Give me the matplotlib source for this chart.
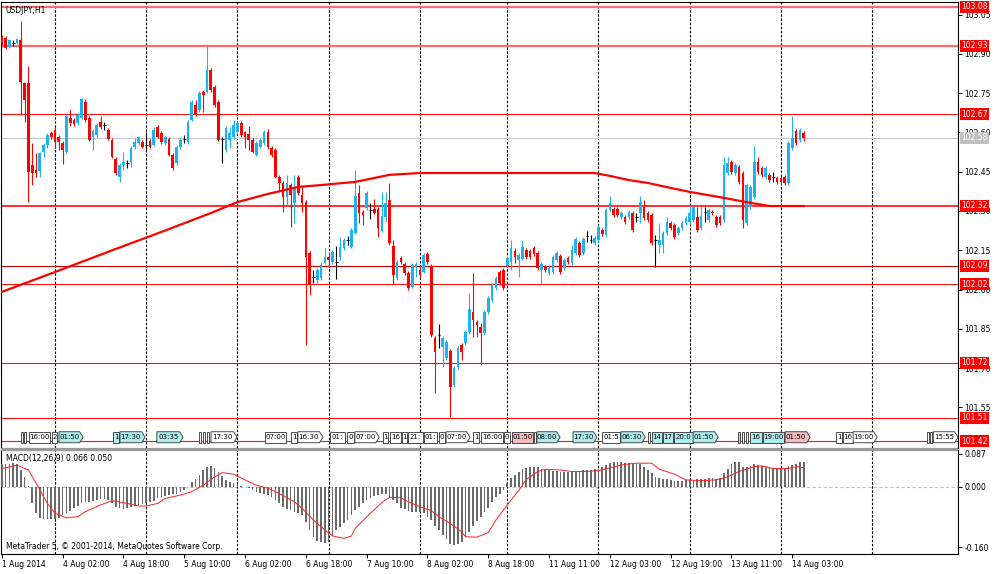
import matplotlib
matplotlib.use('Agg')
import matplotlib.pyplot as plt
import matplotlib.transforms as mtransforms
from matplotlib.patches import Polygon, Rectangle
import numpy as np

plt.rcParams['font.family'] = ['DejaVu Sans']

title_text = "USDJPY,H1"

opens = [
102.965,102.961,102.926,102.942,102.942,102.953,102.789,102.789,102.476,102.457,
102.453,102.525,102.552,102.598,102.609,102.583,102.560,102.525,102.655,102.648,
102.636,102.655,102.716,102.655,102.583,102.590,102.640,102.629,102.609,102.571,
102.499,102.430,102.476,102.483,102.487,102.544,102.560,102.564,102.552,102.567,
102.552,102.621,102.598,102.560,102.575,102.514,102.483,102.544,102.575,102.564,
102.648,102.705,102.686,102.755,102.755,102.839,102.774,102.716,102.575,102.533,
102.571,102.583,102.602,102.636,102.602,102.594,102.571,102.514,102.544,102.560,
102.602,102.541,102.533,102.430,102.407,102.353,102.399,102.331,102.430,102.361,
102.334,102.140,102.048,102.036,102.044,102.101,102.124,102.105,102.105,102.124,
102.159,102.189,102.162,102.216,102.369,102.296,102.311,102.304,102.308,102.308,
102.224,102.277,102.342,102.166,102.044,102.120,102.098,102.063,102.010,102.086,
102.075,102.067,102.136,102.090,101.815,101.826,101.780,101.738,101.765,101.635,
101.704,101.788,101.796,101.838,101.914,101.876,101.857,101.834,101.914,101.960,
102.006,102.067,102.075,102.090,102.105,102.147,102.113,102.117,102.151,102.147,
102.159,102.140,102.075,102.086,102.063,102.067,102.113,102.128,102.082,102.120,
102.101,102.140,102.178,102.140,102.204,102.189,102.178,102.189,102.227,102.208,
102.304,102.308,102.308,102.277,102.277,102.277,102.292,102.277,102.292,102.315,
102.292,102.285,102.189,102.170,102.170,102.216,102.254,102.247,102.216,102.235,
102.254,102.258,102.266,102.277,102.235,102.296,102.266,102.296,102.277,102.277,
102.266,102.445,102.487,102.445,102.468,102.445,102.254,102.315,102.353,102.487,
102.464,102.430,102.438,102.430,102.426,102.426,102.430,102.407,102.541,102.606,
102.571,102.598]

highs = [
102.972,102.968,102.957,102.953,102.961,103.026,102.793,102.854,102.560,102.522,
102.525,102.560,102.598,102.606,102.621,102.590,102.567,102.667,102.690,102.655,
102.674,102.732,102.728,102.663,102.613,102.636,102.663,102.640,102.617,102.579,
102.506,102.483,102.525,102.495,102.548,102.579,102.586,102.571,102.602,102.575,
102.621,102.629,102.606,102.586,102.583,102.522,102.552,102.579,102.590,102.648,
102.724,102.724,102.758,102.762,102.930,102.846,102.781,102.724,102.583,102.625,
102.621,102.648,102.644,102.644,102.606,102.625,102.579,102.567,102.579,102.609,
102.613,102.548,102.541,102.438,102.415,102.438,102.407,102.438,102.438,102.392,
102.342,102.147,102.075,102.082,102.105,102.159,102.143,102.151,102.166,102.201,
102.197,102.204,102.235,102.457,102.399,102.304,102.376,102.331,102.346,102.315,
102.373,102.373,102.407,102.189,102.113,102.128,102.105,102.071,102.101,102.105,
102.090,102.140,102.143,102.098,101.822,101.868,101.822,101.807,101.773,101.708,
101.784,101.796,101.845,101.987,102.063,101.884,101.872,101.922,101.975,102.025,
102.052,102.075,102.082,102.128,102.189,102.159,102.140,102.189,102.159,102.155,
102.166,102.147,102.105,102.094,102.090,102.132,102.147,102.136,102.120,102.128,
102.170,102.201,102.185,102.201,102.224,102.208,102.204,102.247,102.235,102.311,
102.357,102.315,102.315,102.300,102.285,102.304,102.300,102.292,102.357,102.342,
102.300,102.292,102.208,102.254,102.224,102.277,102.262,102.254,102.243,102.262,
102.281,102.319,102.323,102.315,102.315,102.315,102.311,102.304,102.285,102.285,
102.506,102.506,102.495,102.483,102.476,102.453,102.407,102.399,102.548,102.506,
102.472,102.472,102.445,102.449,102.434,102.434,102.438,102.567,102.663,102.613,
102.617,102.606]

lows = [
102.934,102.919,102.923,102.930,102.938,102.667,102.640,102.334,102.399,102.430,
102.430,102.506,102.541,102.575,102.541,102.533,102.480,102.522,102.625,102.625,
102.629,102.651,102.640,102.567,102.533,102.583,102.613,102.609,102.571,102.502,
102.438,102.411,102.457,102.464,102.468,102.537,102.552,102.541,102.533,102.541,
102.548,102.579,102.556,102.552,102.510,102.457,102.476,102.537,102.560,102.556,
102.644,102.663,102.678,102.678,102.751,102.755,102.697,102.567,102.483,102.525,
102.541,102.575,102.594,102.583,102.541,102.533,102.522,102.510,102.541,102.552,
102.537,102.506,102.426,102.373,102.296,102.323,102.239,102.254,102.361,102.296,
101.788,101.979,102.025,102.025,102.036,102.098,102.086,102.098,102.040,102.113,
102.151,102.170,102.159,102.212,102.254,102.247,102.304,102.269,102.289,102.201,
102.220,102.258,102.170,102.021,102.036,102.098,102.056,101.998,102.006,102.048,
102.048,102.063,102.098,101.819,101.605,101.777,101.704,101.731,101.513,101.628,
101.696,101.731,101.788,101.830,101.819,101.819,101.712,101.826,101.906,101.952,
101.998,102.017,101.998,102.082,102.075,102.101,102.048,102.113,102.117,102.117,
102.128,102.075,102.021,102.067,102.056,102.059,102.105,102.059,102.075,102.098,
102.094,102.132,102.124,102.132,102.182,102.178,102.170,102.182,102.204,102.201,
102.296,102.277,102.277,102.269,102.250,102.269,102.220,102.258,102.254,102.266,
102.258,102.170,102.086,102.140,102.140,102.208,102.227,102.193,102.208,102.227,
102.247,102.250,102.258,102.220,102.227,102.258,102.258,102.285,102.239,102.247,
102.258,102.438,102.441,102.438,102.403,102.235,102.247,102.308,102.346,102.441,
102.430,102.422,102.411,102.411,102.403,102.403,102.399,102.399,102.533,102.552,
102.564,102.567]

closes = [
102.942,102.923,102.953,102.942,102.957,102.793,102.724,102.449,102.445,102.445,
102.522,102.552,102.590,102.583,102.564,102.564,102.533,102.663,102.636,102.632,
102.667,102.728,102.648,102.571,102.606,102.629,102.621,102.629,102.575,102.506,
102.445,102.476,102.487,102.483,102.541,102.564,102.583,102.544,102.552,102.544,
102.609,102.583,102.564,102.583,102.514,102.464,102.544,102.571,102.575,102.640,
102.716,102.667,102.751,102.743,102.839,102.762,102.705,102.571,102.575,102.617,
102.598,102.629,102.636,102.590,102.583,102.571,102.525,102.560,102.571,102.602,
102.544,102.514,102.430,102.407,102.353,102.407,102.361,102.392,102.369,102.331,
102.124,102.017,102.048,102.075,102.094,102.124,102.113,102.143,102.105,102.162,
102.189,102.189,102.227,102.357,102.292,102.285,102.369,102.304,102.292,102.235,
102.281,102.331,102.178,102.056,102.105,102.105,102.063,102.006,102.094,102.098,
102.056,102.132,102.105,101.826,101.761,101.826,101.815,101.800,101.628,101.700,
101.777,101.761,101.838,101.926,101.884,101.865,101.834,101.914,101.968,102.017,
102.044,102.025,102.006,102.120,102.159,102.124,102.132,102.162,102.124,102.124,
102.136,102.082,102.098,102.075,102.082,102.124,102.140,102.067,102.113,102.105,
102.151,102.193,102.132,102.193,102.204,102.189,102.197,102.239,102.212,102.304,
102.331,102.285,102.285,102.292,102.258,102.296,102.227,102.277,102.334,102.273,
102.266,102.178,102.189,102.189,102.216,102.258,102.235,102.201,102.235,102.254,
102.273,102.292,102.315,102.227,102.281,102.296,102.304,102.292,102.247,102.254,
102.476,102.483,102.449,102.476,102.411,102.266,102.399,102.392,102.487,102.449,
102.438,102.464,102.418,102.430,102.411,102.411,102.407,102.560,102.579,102.560,
102.609,102.580]

# moving average read at anchor bars
ma_bars = [0, 14, 30, 42, 55, 62, 70, 78, 84, 93, 102, 110, 120, 133, 156, 160, 165, 170, 176, 181, 190, 197, 202, 211]
ma_vals = [101.991, 102.067, 102.155, 102.220, 102.292, 102.334, 102.365, 102.392, 102.399, 102.411,
           102.438, 102.445, 102.445, 102.445, 102.445, 102.434, 102.418, 102.407, 102.388, 102.373,
           102.350, 102.331, 102.319, 102.319]

macd_hist = [
0.060,0.061,0.061,0.062,0.061,0.044,0.026,0.002,-0.043,-0.070,
-0.083,-0.085,-0.085,-0.085,-0.085,-0.083,-0.075,-0.069,-0.063,-0.057,
-0.051,-0.042,-0.040,-0.040,-0.039,-0.035,-0.033,-0.033,-0.035,-0.042,
-0.053,-0.057,-0.060,-0.057,-0.054,-0.051,-0.048,-0.046,-0.044,-0.041,
-0.037,-0.031,-0.028,-0.025,-0.022,-0.019,-0.018,-0.013,-0.009,-0.001,
0.013,0.019,0.031,0.044,0.053,0.055,0.050,0.040,0.028,0.018,
0.013,0.011,0.007,0.002,-0.002,-0.004,-0.009,-0.013,-0.016,-0.019,
-0.022,-0.028,-0.035,-0.042,-0.053,-0.060,-0.062,-0.066,-0.069,-0.075,
-0.092,-0.114,-0.132,-0.142,-0.146,-0.148,-0.145,-0.130,-0.114,-0.107,
-0.097,-0.088,-0.075,-0.062,-0.053,-0.044,-0.035,-0.031,-0.025,-0.022,
-0.019,-0.019,-0.026,-0.035,-0.044,-0.055,-0.060,-0.063,-0.066,-0.066,
-0.066,-0.070,-0.079,-0.088,-0.104,-0.114,-0.127,-0.139,-0.150,-0.154,
-0.151,-0.145,-0.132,-0.119,-0.104,-0.090,-0.079,-0.066,-0.055,-0.040,
-0.028,-0.018,-0.009,0.009,0.022,0.031,0.040,0.046,0.050,0.053,
0.053,0.051,0.048,0.046,0.044,0.042,0.041,0.040,0.040,0.040,
0.040,0.040,0.042,0.044,0.044,0.044,0.046,0.048,0.053,0.057,
0.063,0.066,0.066,0.066,0.063,0.062,0.060,0.060,0.060,0.053,
0.044,0.035,0.026,0.022,0.019,0.019,0.018,0.016,0.015,0.016,
0.018,0.018,0.018,0.019,0.019,0.020,0.022,0.022,0.019,0.022,
0.035,0.048,0.059,0.064,0.066,0.053,0.053,0.055,0.059,0.057,
0.055,0.053,0.051,0.050,0.048,0.048,0.050,0.054,0.058,0.061,
0.064,0.066]

sig_bars = [0, 4, 7, 9, 12, 14, 17, 20, 22, 26, 29, 33, 36, 38, 41, 43, 47, 50, 53, 56, 58, 61, 64, 67,
            70, 73, 77, 79, 82, 85, 87, 90, 92, 93, 97, 100, 102, 105, 107, 110, 113, 115, 118, 121,
            122, 125, 128, 130, 133, 136, 138, 141, 143, 147, 150, 153, 157, 160, 164, 167, 171, 173,
            177, 180, 184, 188, 191, 194, 198, 200, 203, 207, 209, 211]
sig_vals = [0.048, 0.057, 0.044, 0.010, -0.044, -0.070, -0.082, -0.079, -0.066, -0.048, -0.037, -0.044,
            -0.051, -0.051, -0.044, -0.031, -0.022, -0.013, 0.004, 0.026, 0.037, 0.033, 0.018, 0.004,
            -0.004, -0.018, -0.040, -0.057, -0.088, -0.114, -0.130, -0.136, -0.130, -0.110, -0.070,
            -0.042, -0.028, -0.029, -0.040, -0.053, -0.063, -0.079, -0.097, -0.119, -0.132, -0.133,
            -0.121, -0.088, -0.048, -0.010, 0.019, 0.040, 0.046, 0.044, 0.040, 0.040, 0.042, 0.050,
            0.059, 0.062, 0.062, 0.046, 0.033, 0.018, 0.016, 0.018, 0.026, 0.040, 0.053, 0.055, 0.048,
            0.048, 0.053, 0.050]

level_prices = [103.08, 102.93, 102.67, 102.32, 102.09, 102.02, 101.72, 101.51, 101.42]
level_labels = ["103.08", "102.93", "102.67", "102.32", "102.09", "102.02", "101.72", "101.51", "101.42"]
level_colors = ["#ff6a6a", "#ff6a6a", "#ff1010", "#ff2020", "#c00000", "#ff1010", "#ff1010", "#ff1010", "#ff1010"]
level_widths = [1.6, 1.6, 0.8, 1.3, 0.8, 0.8, 0.8, 0.8, 0.8]
bid_price = 102.58
bid_label = "102.58"

price_ticks = [103.05, 102.90, 102.75, 102.60, 102.45, 102.30, 102.15, 102.00, 101.85, 101.70, 101.55]
macd_ticks = [0.087, 0.0, -0.160]
macd_tick_labels = ["0.087", "0.000", "-0.160"]

day_separators = [14, 38, 62, 86, 110, 133, 157, 181, 205, 229]
time_tick_bars = [0, 16, 32, 48, 64, 80, 96, 112, 128, 144, 160, 176, 192, 208]
time_tick_labels = ["1 Aug 2014", "4 Aug 02:00", "4 Aug 18:00", "5 Aug 10:00", "6 Aug 02:00",
                    "6 Aug 18:00", "7 Aug 10:00", "8 Aug 02:00", "8 Aug 18:00", "11 Aug 11:00",
                    "12 Aug 03:00", "12 Aug 19:00", "13 Aug 11:00", "14 Aug 03:00"]

# economic calendar event tags: (start bar, end bar, text, colour kind, arrow tag)
events = [
(5.05, 5.6, "", "w", False), (5.84, 6.37, "", "w", False), (7.16, 12.68, "16:00", "w", False),
(13.2, 14.5, "2", "w", False), (15.05, 21.4, "01:50", "c", True), (29.3, 30.8, "1", "c", False),
(31.1, 37.7, "17:30", "c", True), (40.8, 47.7, "03:35", "c", True), (51.9, 52.4, "", "w", False),
(52.9, 53.5, "", "w", False), (54.0, 54.5, "", "w", False), (55.05, 61.9, "17:30", "w", True),
(69.3, 74.8, "07:00", "w", False), (76.1, 77.7, "1", "w", False), (77.9, 84.5, "16:30", "w", True),
(86.4, 90.3, "01:", "w", False), (90.8, 92.7, "0", "w", False), (92.9, 99.3, "07:00", "w", True),
(100.3, 101.6, "1", "w", False), (102.2, 105.1, "16", "w", False), (105.3, 106.6, "1", "w", False),
(106.9, 110.8, "21:", "w", False), (111.1, 114.5, "01:", "w", False), (115.1, 116.6, "0", "w", False),
(116.9, 123.2, "07:00", "w", True), (124.0, 125.6, "1", "w", False), (126.1, 131.9, "16:00", "w", False),
(132.2, 133.7, "0", "w", False), (134.3, 139.8, "01:50", "p", False), (140.1, 140.6, "", "w", False),
(140.8, 146.9, "08:00", "c", True), (150.3, 156.6, "17:30", "c", True), (157.9, 162.7, "01:5", "w", False),
(162.9, 169.3, "06:30", "c", True), (170.1, 170.6, "", "w", False), (171.1, 173.7, "14", "c", False),
(174.0, 176.6, "17", "c", False), (176.9, 181.9, "20:0", "c", False), (181.9, 188.5, "01:50", "c", True),
(193.7, 194.3, "", "p", False), (194.8, 195.3, "", "w", False), (195.8, 196.3, "", "w", False),
(196.9, 200.1, "16", "c", False), (200.3, 205.8, "19:00", "c", False), (206.1, 212.7, "01:50", "p", True),
(219.5, 221.1, "1", "w", False), (221.4, 224.0, "16", "w", False), (224.0, 230.3, "19:00", "w", True),
(243.5, 244.0, "", "w", False), (244.3, 244.8, "", "w", False), (245.1, 251.6, "15:55", "w", True),
]

BULL = "#1cb4f0"
BEAR = "#ff0000"
FS = 5.5

fig = plt.figure(figsize=(10, 5.74), dpi=100)
fig.patch.set_facecolor("white")
ax = fig.add_axes([0.001, 1 - 448 / 574, 0.957, 446 / 574])
ax2 = fig.add_axes([0.001, 1 - 554 / 574, 0.957, 104 / 574])
fig.patches.append(Rectangle((0.001, 1 - 450.5 / 574), 0.957, 2.5 / 574, transform=fig.transFigure,
                             facecolor="#9a9a9a", edgecolor="none", zorder=0))

XMIN, XMAX = -0.21, 251.6
for a in (ax, ax2):
    a.set_xlim(XMIN, XMAX)
    for sp in a.spines.values():
        sp.set_color("black")
        sp.set_linewidth(0.8)
    a.yaxis.tick_right()
    a.tick_params(axis="y", direction="out", length=3, width=0.7, pad=1.5, labelsize=FS, colors="black")
    for s in day_separators:
        a.axvline(s, color="black", lw=0.8, ls=(0, (2.2, 1.5)), zorder=2)

ax.set_ylim(101.395, 103.098)
ax.set_xticks([])
ax.set_yticks(price_ticks)
ax.set_yticklabels(["%.2f" % v for v in price_ticks])

# horizontal levels
for p, c, w in zip(level_prices, level_colors, level_widths):
    ax.axhline(p, color=c, lw=w, zorder=2.5)
ax.axhline(bid_price, color="#c8c8c8", lw=0.8, zorder=2.4)

# moving average
ax.plot(ma_bars, ma_vals, color="#ff0000", lw=1.6, zorder=5, solid_joinstyle="round")

# candles
o = np.array(opens); h = np.array(highs); l = np.array(lows); c = np.array(closes)
idx = np.arange(len(o))
cols = np.where(c > o, BULL, np.where(c < o, BEAR, "black"))
ax.vlines(idx, l, h, colors=cols, lw=0.8, zorder=3)
ax.bar(idx, np.abs(c - o), bottom=np.minimum(o, c), width=0.7, color=cols, lw=0, zorder=4)
dj = c == o
ax.hlines(o[dj], idx[dj] - 0.35, idx[dj] + 0.35, colors="black", lw=0.8, zorder=4)

# price labels on right
blend = mtransforms.blended_transform_factory(ax.transAxes, ax.transData)
for p, s in zip(level_prices, level_labels):
    ax.text(1.0035, p, s, transform=blend, ha="left", va="center", fontsize=FS, color="white",
            bbox=dict(boxstyle="square,pad=0.2", fc="#ff0000", ec="none"), zorder=10, clip_on=False)
ax.text(1.0035, bid_price, bid_label, transform=blend, ha="left", va="center", fontsize=FS, color="white",
        bbox=dict(boxstyle="square,pad=0.2", fc="#c0c0c0", ec="none"), zorder=10, clip_on=False)

ax.text(0.005, 0.982, title_text, transform=ax.transAxes, fontsize=FS, ha="left", va="center", zorder=11)

# event tags
yb, yt = 101.415, 101.457
ym = (yb + yt) / 2
fills = {"w": "white", "c": "#aeeeee", "p": "#f5bcbc"}
for (x0, x1, txt, kind, arrow) in events:
    tip = 0.9 if arrow else 0.0
    if arrow:
        pts = [(x0, yb), (x1 - tip, yb), (x1, ym), (x1 - tip, yt), (x0, yt)]
    else:
        pts = [(x0, yb), (x1, yb), (x1, yt), (x0, yt)]
    ax.add_patch(Polygon(pts, closed=True, facecolor=fills[kind], edgecolor="#303030", lw=0.6, zorder=8))
    if txt:
        ax.text((x0 + x1 - tip) / 2, ym, txt, fontsize=5, ha="center", va="center", zorder=9)

# MACD panel
ax2.set_ylim(-0.1775, 0.0968)
ax2.axhline(0, color="#c0c0c0", lw=0.8, ls=(0, (3, 2)), zorder=1)
ax2.bar(np.arange(len(macd_hist)), macd_hist, width=0.45, color="#6a6a6a", lw=0, zorder=3)
ax2.plot(sig_bars, sig_vals, color="#ff2020", lw=0.7, zorder=4)
ax2.set_yticks(macd_ticks)
ax2.set_yticklabels(macd_tick_labels)
ax2.set_xticks(time_tick_bars)
ax2.set_xticklabels(time_tick_labels)
ax2.tick_params(axis="x", direction="out", length=3, width=0.7, pad=1.5, labelsize=FS)
for lbl in ax2.get_xticklabels():
    lbl.set_horizontalalignment("left")
ax2.text(0.005, 0.92, "MACD(12,26,9) 0.066 0.050", transform=ax2.transAxes, fontsize=FS,
         ha="left", va="center", zorder=6)
ax2.text(0.005, 0.07, "MetaTrader 5, \u00a9 2001-2014, MetaQuotes Software Corp.", transform=ax2.transAxes,
         fontsize=FS, ha="left", va="center", zorder=6)

fig.savefig("out.png", dpi=100, facecolor="white")
